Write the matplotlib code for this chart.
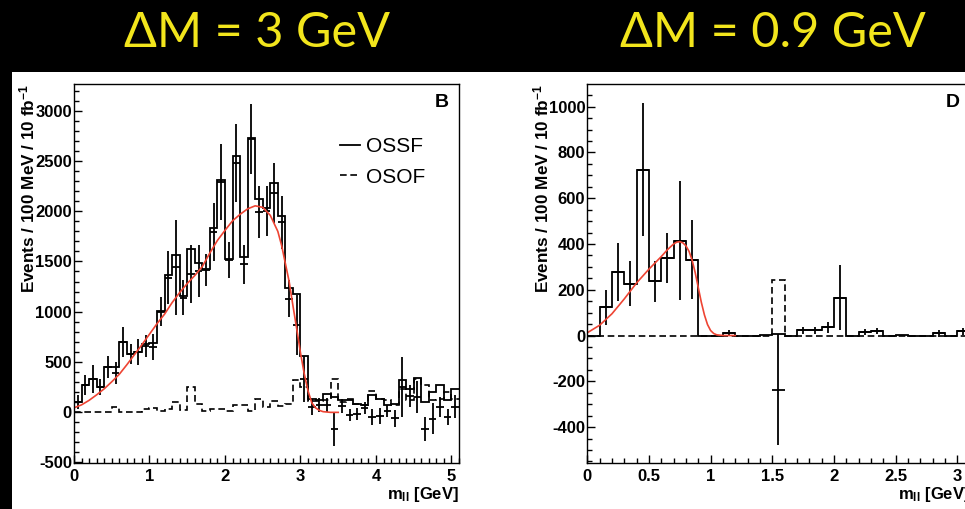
import numpy as np
import matplotlib.pyplot as plt
from matplotlib.patches import Rectangle
from matplotlib.lines import Line2D
from matplotlib.ticker import MultipleLocator

plt.rcParams['font.family'] = ['Liberation Sans', 'DejaVu Sans']
plt.rcParams['mathtext.fontset'] = 'custom'
plt.rcParams['mathtext.rm'] = 'Liberation Sans:bold'
plt.rcParams['mathtext.bf'] = 'Liberation Sans:bold'
plt.rcParams['mathtext.it'] = 'Liberation Sans:bold'
plt.rcParams['mathtext.default'] = 'bf'
plt.rcParams['axes.unicode_minus'] = False

titles = ['ΔM = 3 GeV', 'ΔM = 0.9 GeV']
tags = ['B', 'D']
ylabel = r'Events / 100 MeV / 10 fb$^{-1}$'
xlabel = r'm$_{ll}$ [GeV]'

# panel B : 100 MeV bins, 0 - 5.1 GeV
b_ossf = [100, 266, 330, 250, 445, 445, 700, 575, 600, 680, 690, 1010, 1368, 1567, 1152,
          1627, 1487, 1421, 1833, 2314, 1521, 2550, 1544, 2729, 2125, 2035, 2284, 1949,
          1238, 1172, 556, 125, 116, 183, 149, 123, 116, 83, 66, 166, 133, 66, 83, 315,
          232, 339, 100, 199, 266, 116, 232]
b_osof = [0, 0, 0, 0, 0, 50, 0, 0, 0, 27, 40, 7, 27, 100, 17, 249, 83, 7, 33, 33, 7, 73,
          73, 7, 133, 50, 106, 60, 83, 315, 249, 106, 106, 116, 325, 100, 133, 83, 73,
          206, 133, 116, 66, 232, 116, 332, 272, 116, 133, 199, 133]
b_diff = [100, 270, 330, 250, 445, 392, 700, 575, 600, 653, 647, 1000, 1340, 1444, 1140,
          1375, 1404, 1414, 1793, 2291, 1514, 2480, 1471, 2722, 1995, 2000, 2181, 1890,
          1129, 865, 330, 50, 73, 66, -171, 56, -33, -22, 37, -47, -40, 12, -66, 252,
          160, 150, -171, -70, 53, -51, 53]
b_err = [70, 100, 140, 80, 110, 110, 150, 100, 130, 110, 125, 146, 269, 473, 174, 290,
         257, 158, 290, 382, 179, 390, 196, 349, 257, 249, 299, 266, 183, 299, 232, 80,
         70, 70, 170, 70, 60, 60, 60, 80, 80, 60, 80, 300, 110, 160, 120, 155, 100, 80, 116]
b_fit_x = [0, 0.1, 0.2, 0.3, 0.4, 0.5, 0.6, 0.7, 0.8, 0.9, 1.0, 1.1, 1.2, 1.3, 1.4, 1.5,
           1.6, 1.7, 1.8, 1.9, 2.0, 2.1, 2.2, 2.3, 2.4, 2.5, 2.6, 2.7, 2.75, 2.8, 2.85,
           2.9, 2.95, 3.0, 3.05, 3.1, 3.15, 3.2, 3.25, 3.3, 3.4, 3.5]
b_fit_y = [40, 70, 115, 170, 230, 300, 375, 470, 570, 670, 775, 880, 975, 1090, 1190, 1280,
           1360, 1450, 1585, 1710, 1810, 1905, 1970, 2025, 2055, 2040, 1960, 1800, 1660,
           1480, 1300, 1060, 830, 590, 380, 210, 90, 40, 15, 2, -5, -5]

# panel D : 100 MeV bins, 0 - 3.1 GeV
d_ossf = [0, 124, 278, 226, 725, 237, 339, 415, 332, 0, 0, 12, 0, 0, 4, 7, 0, 22, 22, 36,
          165, 0, 16, 19, 0, 1, 0, 0, 10, 0, 19]
d_osof = [0, 0, 0, 0, 0, 0, 0, 0, 0, 0, 0, 0, 0, 0, 0, 243, 0, 0, 0, 0, 0, 0, 0, 0, 0, 0,
          0, 0, 0, 0, 0]
d_diff = [0, 124, 278, 226, 725, 237, 339, 415, 332, 0, 0, 12, 0, 0, 4, -236, 0, 22, 22,
          36, 165, 0, 16, 19, 0, 1, 0, 0, 10, 0, 19]
d_err = [0, 76, 126, 99, 290, 89, 111, 261, 173, 0, 0, 12, 0, 0, 0, 244, 0, 15, 15, 25,
         143, 0, 12, 12, 0, 0, 0, 0, 15, 0, 15]
d_fit_x = [0, 0.1, 0.2, 0.3, 0.4, 0.5, 0.6, 0.65, 0.7, 0.725, 0.75, 0.775, 0.8, 0.825,
           0.85, 0.875, 0.9, 0.925, 0.95, 0.975, 1.0, 1.025, 1.05, 1.1, 1.2]
d_fit_y = [12, 45, 95, 160, 230, 290, 345, 375, 400, 408, 410, 405, 392, 368, 330, 275,
           210, 145, 90, 48, 22, 9, 3, 0, 0]

W, H = 965, 509
fig = plt.figure(figsize=(W / 100, H / 100), dpi=100, facecolor='black')
fig.add_artist(Rectangle((12 / W, 0), 1, (H - 72) / H, transform=fig.transFigure,
                         facecolor='white', edgecolor='none', zorder=0))

axB = fig.add_axes([74 / W, 46 / H, 385 / W, 379 / H])
axD = fig.add_axes([587.3 / W, 46 / H, 382.2 / W, 379 / H])

red = '#ee4433'
dash = (0, (4, 2.2))


def draw_panel(ax, ossf, osof, diff, err, fx, fy, xmax, ylim, xmaj, ymaj, ymin):
    ossf = np.array(ossf, float)
    osof = np.array(osof, float)
    diff = np.array(diff, float)
    err = np.array(err, float)
    edges = np.round(np.arange(len(ossf) + 1) * 0.1, 2)
    centers = edges[:-1] + 0.05
    ax.stairs(osof, edges, baseline=None, color='black', lw=1.2, linestyle=dash)
    ax.stairs(ossf, edges, baseline=None, color='black', lw=1.3)
    m = err > 0
    ax.errorbar(centers[m], diff[m], yerr=err[m], xerr=0.05, fmt='none',
                ecolor='black', elinewidth=1.3)
    ax.plot(fx, fy, color=red, lw=1.2)
    ax.set_xlim(0, xmax)
    ax.set_ylim(*ylim)
    ax.xaxis.set_major_locator(MultipleLocator(xmaj))
    ax.xaxis.set_minor_locator(MultipleLocator(0.1))
    ax.yaxis.set_major_locator(MultipleLocator(ymaj))
    ax.yaxis.set_minor_locator(MultipleLocator(ymin))
    ax.xaxis.set_major_formatter(plt.FuncFormatter(lambda v, p: '%g' % v))
    ax.yaxis.set_major_formatter(plt.FuncFormatter(lambda v, p: '%g' % v))
    ax.tick_params(which='both', direction='in', top=False, right=False, width=1.0,
                   labelsize=12)
    ax.tick_params(which='major', length=6)
    ax.tick_params(which='minor', length=3.3)
    ax.tick_params(axis='x', pad=4)
    ax.tick_params(axis='y', pad=1.5)
    for s in ax.spines.values():
        s.set_linewidth(1.0)
    ax.set_facecolor('white')


draw_panel(axB, b_ossf, b_osof, b_diff, b_err, b_fit_x, b_fit_y, 5.1, (-510, 3270), 1, 500, 100)
draw_panel(axD, d_ossf, d_osof, d_diff, d_err, d_fit_x, d_fit_y, 3.1, (-557, 1099), 0.5, 200, 50)
for ax in (axB, axD):
    for lab in ax.get_xticklabels() + ax.get_yticklabels():
        lab.set_fontweight('bold')

for ax, tag in zip((axB, axD), tags):
    ax.text(0.956, 0.952, tag, transform=ax.transAxes, ha='center', va='center',
            fontsize=14, fontweight='bold')

handles = [Line2D([], [], color='black', lw=1.3),
           Line2D([], [], color='black', lw=1.2, linestyle=dash)]
axB.legend(handles, ['OSSF', 'OSOF'], loc='upper left', bbox_to_anchor=(0.69, 0.86),
           frameon=False, fontsize=15, handlelength=1.0, handletextpad=0.25,
           labelspacing=0.55, borderpad=0, borderaxespad=0)

# y labels and x labels, ROOT style
fig.text(27 / W, 1 - 84 / H, ylabel, rotation=90, ha='center', va='top',
         fontsize=12.3, fontweight='bold')
fig.text(541 / W, 1 - 84 / H, ylabel, rotation=90, ha='center', va='top',
         fontsize=12.3, fontweight='bold')
fig.text(459 / W, 1 - 494 / H, xlabel, ha='right', va='center', fontsize=12,
         fontweight='bold')
# right panel's axis runs past the slide edge, so its label is cut like the original
fig.text(969.5 / W, 1 - 494 / H, xlabel, ha='right', va='center', fontsize=12,
         fontweight='bold')

# slide titles
fig.text(257 / W, 1 - 33 / H, titles[0], color='#f2e51c', fontsize=35,
         family=['Lato', 'DejaVu Sans'], ha='center', va='center')
fig.text(773 / W, 1 - 33 / H, titles[1], color='#f2e51c', fontsize=35,
         family=['Lato', 'DejaVu Sans'], ha='center', va='center')

fig.savefig('out.png', dpi=100, facecolor='black')
